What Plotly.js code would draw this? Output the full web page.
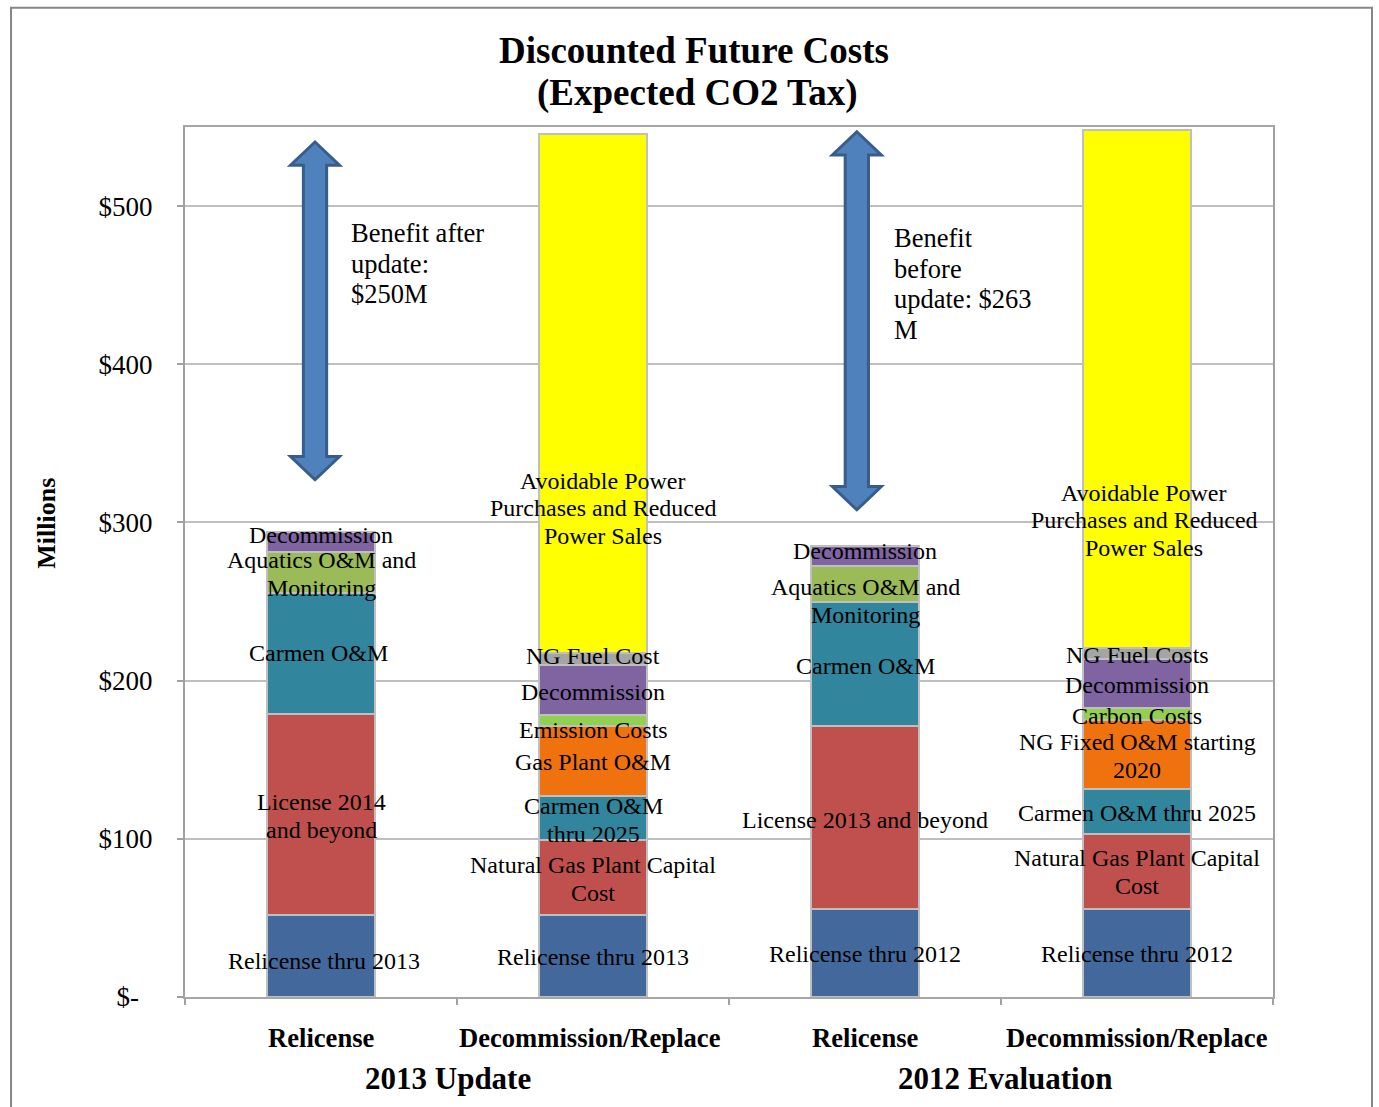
<!DOCTYPE html>
<html><head><meta charset="utf-8">
<script src="https://cdn.plot.ly/plotly-3.0.1.min.js"></script>
<style>html,body{margin:0;padding:0;background:#fff;}#chart{width:1379px;height:1107px;}</style>
</head><body><div id="chart"></div>
<script>
// ---- data ----
const categories = ["Relicense", "Decommission/Replace", "Relicense", "Decommission/Replace"];
const groups = ["2013 Update", "2012 Evaluation"];
const groupCenters = [0.5, 2.5];
const titleLines = ["Discounted Future Costs", "(Expected CO2 Tax)"];

const relicenseThru = [52.0, 52.0, 55.7, 55.7];
const licenseBeyond = [127.1, null, 115.8, null];
const ngCapital     = [null, 47.4, null, 47.5];
const carmenOM      = [76.6, 27.8, 77.9, 28.3];
const gasPlantOM    = [null, 44.3, null, 43.8];
const aquaticsOM    = [25.9, null, 22.9, null];
const emissionCosts = [null, 7.0, null, 7.6];
const decommission  = [12.3, 31.5, 13.1, 31.0];
const ngFuel        = [null, 7.7, null, 6.8];
const avoidablePower= [null, 327.9, null, 327.4];

const yTickVals = [0, 100, 200, 300, 400, 500];
const yTickText = ["$-\u00a0\u00a0", "$100", "$200", "$300", "$400", "$500"];

// segment labels (bar index, text, value at label centre)
const labelBar  = [0,0,0,0,0, 1,1,1,1,1,1,1,1, 2,2,2,2,2, 3,3,3,3,3,3,3,3];
const labelText = [
  "Decommission", "Aquatics O&M and\nMonitoring", "Carmen O&M", "License 2014\nand beyond", "Relicense thru 2013",
  "Avoidable Power\nPurchases and Reduced\nPower Sales", "NG Fuel Cost", "Decommission", "Emission Costs", "Gas Plant O&M",
  "Carmen O&M\nthru 2025", "Natural Gas Plant Capital\nCost", "Relicense thru 2013",
  "Decommission", "Aquatics O&M and\nMonitoring", "Carmen O&M", "License 2013 and beyond", "Relicense thru 2012",
  "Avoidable Power\nPurchases and Reduced\nPower Sales", "NG Fuel Costs", "Decommission", "Carbon Costs",
  "NG Fixed O&M starting\n2020", "Carmen O&M thru 2025", "Natural Gas Plant Capital\nCost", "Relicense thru 2012"
];
const labelY = [
  292.0, 267.4, 217.4, 114.4, 22.8,
  309.1, 215.5, 192.8, 168.8, 148.5, 111.9, 74.6, 25.3,
  281.9, 250.3, 209.2, 111.9, 27.2,
  301.5, 216.2, 197.2, 177.6, 152.3, 116.3, 79.0, 27.2
];
const labelXShift = [
  0, 0, -3, 0, 3,
  10, 0, 0, 0, 0, 0, 0, 0,
  0, 0, 0, 0, 0,
  7, 0, 0, 0, 0, 0, 0, 0
];

// benefit arrows
const benefitX    = [-0.022, 1.97];
const benefitLow  = [327, 308];
const benefitHigh = [540.5, 547];
const benefitText = ["Benefit after\nupdate:\n$250M", "Benefit\nbefore\nupdate: $263\nM"];
const benefitTextX = [0.103, 2.100];
const benefitTextY = [482.9, 479.8];

// ---- traces ----
const serif = "Liberation Serif, Times New Roman, serif";
const segs = [
  [relicenseThru, "#43699C", "Relicense thru"],
  [licenseBeyond, "#C0504D", "License and beyond"],
  [ngCapital, "#C0504D", "Natural Gas Plant Capital Cost"],
  [carmenOM, "#31859C", "Carmen O&M"],
  [gasPlantOM, "#F0720F", "Gas Plant O&M"],
  [aquaticsOM, "#9BBB59", "Aquatics O&M and Monitoring"],
  [emissionCosts, "#92D050", "Emission Costs"],
  [decommission, "#8064A2", "Decommission"],
  [ngFuel, "#A5A5A5", "NG Fuel Cost"],
  [avoidablePower, "#FFFF00", "Avoidable Power Purchases"]
];
const xIdx = categories.map((c, i) => i);
const traces = segs.map(s => ({
  type: "bar", x: xIdx, y: s[0], name: s[2], width: 0.4,
  marker: {color: s[1], line: {color: "#BFBFBF", width: 2}},
  hoverinfo: "y+name", showlegend: false
}));

// ---- annotations ----
const annotations = [];
const LINE = 27.5;
labelText.forEach((t, k) => {
  const lines = t.split("\n");
  const mid = (lines.length - 1) / 2;
  lines.forEach((ln, i) => {
    annotations.push({
      x: labelBar[k], y: labelY[k], xref: "x", yref: "y", text: ln, showarrow: false,
      xanchor: "center", yanchor: "middle", xshift: labelXShift[k], yshift: (mid - i) * LINE,
      font: {family: serif, size: 24, color: "#000"}
    });
  });
});
categories.forEach((c, i) => {
  annotations.push({x: i, y: -0.047, xref: "x", yref: "paper", text: "<b>" + c + "</b>", showarrow: false,
    xanchor: "center", yanchor: "middle", xshift: i === 1 ? -3 : 0, font: {family: serif, size: 26.6, color: "#000"}});
});
groups.forEach((g, i) => {
  annotations.push({x: groupCenters[i], y: -0.094, xref: "x", yref: "paper", text: "<b>" + g + "</b>", showarrow: false,
    xanchor: "center", yanchor: "middle", xshift: i === 0 ? -9 : 4, font: {family: serif, size: 31, color: "#000"}});
});
benefitText.forEach((t, i) => {
  t.split("\n").forEach((ln, j) => {
    annotations.push({x: benefitTextX[i], y: benefitTextY[i], xref: "x", yref: "y", text: ln, showarrow: false,
      xanchor: "left", yanchor: "middle", align: "left", yshift: -j * 30.5,
      font: {family: serif, size: 26.5, color: "#000"}});
  });
});
titleLines.forEach((t, i) => {
  annotations.push({x: 0.4678, y: i === 0 ? 1.0885 : 1.0391, xref: "paper", yref: "paper", text: "<b>" + t + "</b>",
    showarrow: false, xanchor: "center", yanchor: "middle", xshift: i === 0 ? 0 : 4,
    font: {family: serif, size: 37, color: "#000"}});
});
annotations.push({x: -0.127, y: 0.545, xref: "paper", yref: "paper", text: "<b>Millions</b>", textangle: -90,
  showarrow: false, xanchor: "center", yanchor: "middle", font: {family: serif, size: 26, color: "#000"}});

// ---- shapes ----
const shapes = [];
const hw = 0.0428, HW = 0.09, hl = 14.7;
benefitX.forEach((x, i) => {
  const y0 = benefitLow[i], y1 = benefitHigh[i];
  const p = [[x, y1], [x + HW, y1 - hl], [x + hw, y1 - hl], [x + hw, y0 + hl], [x + HW, y0 + hl], [x, y0],
    [x - HW, y0 + hl], [x - hw, y0 + hl], [x - hw, y1 - hl], [x - HW, y1 - hl]];
  shapes.push({type: "path", xref: "x", yref: "y", path: "M" + p.map(q => q[0] + "," + q[1]).join(" L") + " Z",
    fillcolor: "#4F81BD", line: {color: "#385D8A", width: 3}, layer: "above"});
});
// outer chart border
shapes.push({type: "rect", xref: "paper", yref: "paper", x0: -0.1599, x1: 1.091, y0: -0.15, y1: 1.137,
  line: {color: "#868686", width: 2}, fillcolor: "rgba(0,0,0,0)", layer: "below"});

const layout = {
  width: 1379, height: 1107,
  margin: {l: 185, r: 106, t: 127, b: 110},
  paper_bgcolor: "#fff", plot_bgcolor: "#fff",
  barmode: "stack",
  showlegend: false,
  xaxis: {range: [-0.5, 3.5], tickvals: [-0.5, 0.5, 1.5, 2.5, 3.5], showticklabels: false,
    ticks: "outside", ticklen: 6, tickcolor: "#A0A0A0", tickwidth: 2, showgrid: false, zeroline: false,
    showline: true, linecolor: "#A6A6A6", linewidth: 2, mirror: true, fixedrange: true},
  yaxis: {range: [0, 550], tickvals: yTickVals, ticktext: yTickText, ticks: "outside", ticklen: 6,
    tickcolor: "#A0A0A0", tickwidth: 2, gridcolor: "#BFBFBF", gridwidth: 2, zeroline: false,
    showline: true, linecolor: "#A0A0A0", linewidth: 2, mirror: true, ticklabelstandoff: 19,
    tickfont: {family: serif, size: 27, color: "#000"}, fixedrange: true},
  annotations: annotations,
  shapes: shapes
};
Plotly.newPlot("chart", traces, layout, {displayModeBar: false, staticPlot: true});
</script>
</body></html>
